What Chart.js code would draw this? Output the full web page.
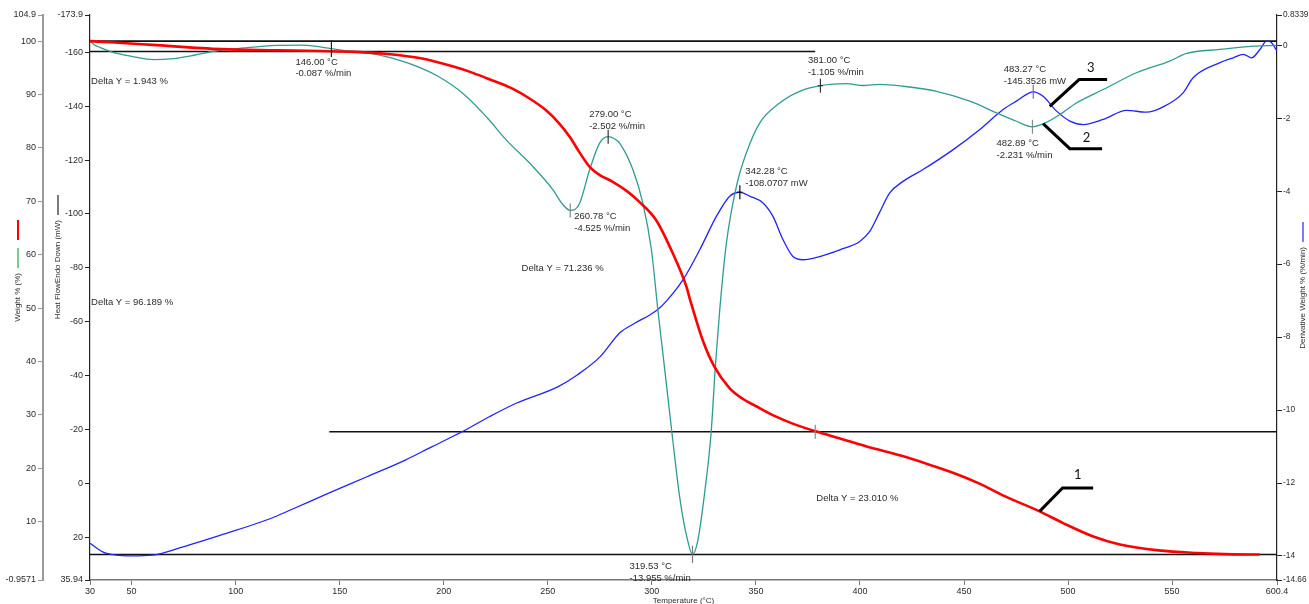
<!DOCTYPE html>
<html>
<head>
<meta charset="utf-8">
<title>TGA / DTG / DSC</title>
<script src="https://cdn.jsdelivr.net/npm/chart.js@4.4.1/dist/chart.umd.min.js"></script>
<style>
  html, body { margin: 0; padding: 0; background: #ffffff; overflow: hidden; }
  canvas { display: block; }
</style>
</head>
<body>
<canvas id="c" width="1309" height="604"></canvas>
<script>
// ---- Measured signals against temperature (°C) ----
const weightTemp = [30, 42, 60, 93, 120, 141, 157, 173, 189, 205, 213, 221, 233, 241, 249, 255, 260.5, 265, 270, 275, 281, 288, 294, 302, 310, 316.6, 318.4, 324.4, 329.9, 337.3, 344, 350.1, 359.4, 368, 378.7, 390, 405.4, 420, 433, 445, 456.9, 469.8, 486.3, 497.4, 512.1, 524.9, 543.4, 561.7, 575, 592];
const weightPct = [100, 99.75, 99.3, 98.5, 98.3, 98.15, 98.0, 97.6, 96.8, 95.2, 94.2, 93.0, 91.1, 89.3, 87.1, 84.8, 82.1, 79.3, 76.5, 74.9, 73.7, 71.9, 69.9, 66.5, 60.3, 54.0, 51.5, 44.0, 39.1, 35.0, 32.9, 31.6, 29.7, 28.3, 26.9, 25.6, 23.8, 22.3, 20.7, 19.1, 17.2, 14.7, 11.9, 9.75, 7.2, 5.7, 4.6, 4.1, 3.9, 3.81];

const derivTemp = [30, 32, 35, 41.6, 50, 60.8, 68.8, 80, 89.7, 105.7, 120, 131.3, 138, 145.7, 155.3, 168.2, 182.6, 197, 209.9, 221, 230, 242.8, 252.5, 257, 260.78, 263, 265.3, 270.1, 274.9, 279, 282, 284.5, 290.9, 295.7, 299.8, 302.9, 306, 310, 313.4, 316.5, 319.53, 322, 325.3, 328.5, 330.5, 332.6, 335.8, 340.6, 345.4, 351.8, 361.4, 371, 381, 393.5, 401.5, 409.5, 420.7, 436.8, 452.8, 465.6, 475.2, 482.89, 488, 496, 504, 516.9, 532.9, 548.9, 557, 573, 589, 600.2];
const derivRate = [0.12, 0.02, -0.06, -0.2, -0.3, -0.39, -0.37, -0.27, -0.16, -0.06, 0.0, 0.01, -0.02, -0.087, -0.16, -0.25, -0.48, -0.84, -1.35, -1.99, -2.59, -3.32, -3.96, -4.35, -4.525, -4.5, -4.33, -3.41, -2.68, -2.502, -2.56, -2.68, -3.41, -4.33, -5.61, -7.26, -8.8, -10.8, -12.4, -13.4, -13.955, -13.6, -12.3, -10.6, -8.8, -7.26, -5.43, -3.87, -2.95, -2.13, -1.58, -1.26, -1.105, -1.05, -1.1, -1.07, -1.12, -1.26, -1.53, -1.85, -2.08, -2.231, -2.15, -1.9, -1.58, -1.21, -0.75, -0.43, -0.22, -0.11, -0.02, 0.0];

const heatTemp = [30, 36.1, 42.5, 50, 60, 74.8, 93.2, 117.1, 126.3, 144.7, 163.1, 181.5, 194.4, 209, 221.9, 234.8, 255, 264.3, 275.3, 284.5, 292, 299.2, 303, 307.5, 315, 323, 331, 337.4, 342.28, 347, 353.4, 358.2, 363, 367.8, 372.6, 380.7, 390.3, 399.9, 404.7, 409.5, 414.3, 420.7, 430.3, 444.8, 457.6, 468.8, 475.2, 483.27, 488, 494.5, 500.9, 507.3, 516.9, 528.1, 537.7, 545.7, 555.3, 560.1, 573, 579.4, 584.2, 588.2, 592.2, 595.4, 597.8, 600.4];
const heatFlow = [22.3, 25.5, 26.7, 27.0, 26.7, 23.6, 19.2, 13.0, 9.95, 3.7, -2.4, -8.6, -13.6, -19.2, -24.7, -29.7, -35.9, -40.3, -47.1, -55.8, -59.5, -62.6, -64.6, -68.1, -75.6, -86.7, -99.1, -106.6, -108.0707, -106.6, -104.1, -99.1, -90.5, -84.2, -83.0, -84.2, -86.7, -89.8, -93.5, -100.7, -107.8, -112.1, -116.5, -123.9, -131.4, -138.8, -141.9, -145.3526, -143.7, -138.2, -134.5, -133.2, -135.1, -138.5, -137.8, -139.8, -145.0, -150.6, -156.2, -158.0, -159.3, -158.0, -161.1, -164.2, -163.6, -160.5];

// ---- Axis ticks ----
const tempTicks = [30, 50, 100, 150, 200, 250, 300, 350, 400, 450, 500, 550, 600.4];
const weightTicks = [-0.9571, 10, 20, 30, 40, 50, 60, 70, 80, 90, 100, 104.9];
const heatTicks = [-173.9, -160, -140, -120, -100, -80, -60, -40, -20, 0, 20, 35.94];
const derivTicks = [0.8339, 0, -2, -4, -6, -8, -10, -12, -14, -14.66];

// ---- Mass-loss step levels (weight %) and their temperature spans ----
const stepLevel = [100, 98.057, 26.821, 3.811];
const stepFrom = [30, 30, 145, 30];
const stepTo = [600.4, 378.5, 600.4, 600.4];
const stepText = ['Delta Y = 1.943 %', 'Delta Y = 96.189 %', 'Delta Y = 71.236 %', 'Delta Y = 23.010 %'];

// ---- Peak readouts ----
const derivPeakTemp = [146.00, 260.78, 279.00, 319.53, 381.00, 482.89];
const derivPeakRate = [-0.087, -4.525, -2.502, -13.955, -1.105, -2.231];
const heatPeakTemp = [342.28, 483.27];
const heatPeakFlow = [-108.0707, -145.3526];

const FONT = '"Liberation Sans", Arial, sans-serif';
const RED = '#ff0000';
const TEAL = '#2f9c93';
const BLUE = '#2222ff';
const INK = '#2b2b2b';

const pts = (xs, ys) => xs.map((x, i) => ({ x, y: ys[i] }));
const fmt = (v, d) => v.toFixed(d);

// label placement (pixel offsets from the marked point)
const derivLabelOffset = [[-36, 13.5], [4, 6], [-19, -22], [-63, 12], [-12.5, -25], [-36, 17]];
const heatLabelOffset = [[5.5, -20.5], [-29.5, -22.5]];
// step text anchors in (°C, weight %)
const stepTextAt = [[30.5, 92.4], [30.5, 51.0], [237.4, 57.5], [379, 14.3]];

// numbered call-outs: anchor on a curve, leader offsets in px
const callouts = [
  { label: '1', axis: 'w', x: 486.3, y: 11.9, path: [[0, 0], [23, -23.4], [53.6, -23.4]], text: [38.3, -37] },
  { label: '2', axis: 'd', x: 488, y: -2.145, path: [[0, 0], [26.7, 25], [59, 25]], text: [43.4, 14] },
  { label: '3', axis: 'hf', x: 491.2, y: -140.0, path: [[0, 0], [29.3, -26.7], [57.3, -26.7]], text: [41, -38.5] }
];

const stepDatasets = stepLevel.map((lvl, i) => ({
  label: 'step' + i,
  data: [{ x: stepFrom[i], y: lvl }, { x: stepTo[i], y: lvl }],
  yAxisID: 'w',
  borderColor: '#111111',
  borderWidth: 1.6,
  pointRadius: 0,
  order: 5
}));

const annotationPlugin = {
  id: 'thermalAnnotations',
  afterDatasetsDraw(chart) {
    const { ctx, scales } = chart;
    const X = scales.x;
    ctx.save();
    ctx.fillStyle = INK;
    ctx.textBaseline = 'middle';
    ctx.textAlign = 'left';
    ctx.font = '9.5px ' + FONT;

    // step differences
    stepText.forEach((t, i) => {
      const [tx, ty] = stepTextAt[i];
      ctx.fillText(t, X.getPixelForValue(tx), scales.w.getPixelForValue(ty));
    });

    // derivative peak readouts
    derivPeakTemp.forEach((t, i) => {
      const px = X.getPixelForValue(t) + derivLabelOffset[i][0];
      const py = scales.d.getPixelForValue(derivPeakRate[i]) + derivLabelOffset[i][1];
      ctx.fillText(fmt(t, 2) + ' °C', px, py);
      ctx.fillText(fmt(derivPeakRate[i], 3) + ' %/min', px, py + 11.6);
    });

    // heat-flow peak readouts
    heatPeakTemp.forEach((t, i) => {
      const px = X.getPixelForValue(t) + heatLabelOffset[i][0];
      const py = scales.hf.getPixelForValue(heatPeakFlow[i]) + heatLabelOffset[i][1];
      ctx.fillText(fmt(t, 2) + ' °C', px, py);
      ctx.fillText(fmt(heatPeakFlow[i], 4) + ' mW', px, py + 11.6);
    });

    // numbered call-outs
    ctx.strokeStyle = '#000000';
    ctx.lineWidth = 3;
    ctx.lineJoin = 'miter';
    ctx.font = '13px Lato, ' + FONT;
    ctx.textAlign = 'center';
    ctx.fillStyle = '#111111';
    callouts.forEach(c => {
      const ax = X.getPixelForValue(c.x);
      const ay = scales[c.axis].getPixelForValue(c.y);
      ctx.beginPath();
      c.path.forEach(([dx, dy], k) => {
        if (k === 0) ctx.moveTo(ax + dx, ay + dy); else ctx.lineTo(ax + dx, ay + dy);
      });
      ctx.stroke();
      ctx.fillText(c.label, ax + c.text[0], ay + c.text[1]);
    });
    ctx.restore();
  },
  afterDraw(chart) {
    const { ctx, scales } = chart;
    ctx.save();
    ctx.font = '8px ' + FONT;
    ctx.fillStyle = INK;
    ctx.textAlign = 'center';
    ctx.textBaseline = 'middle';

    // rotated axis title (text top at `top`) with its series swatches stacked above it
    const vTitle = (text, x, top, marks) => {
      const w = ctx.measureText(text).width;
      ctx.save();
      ctx.translate(x, top + w / 2);
      ctx.rotate(-Math.PI / 2);
      ctx.fillText(text, 0, 0);
      ctx.restore();
      let y = top - 5;
      marks.forEach(m => {
        ctx.strokeStyle = m.color;
        ctx.lineWidth = m.width;
        ctx.beginPath();
        ctx.moveTo(x, y);
        ctx.lineTo(x, y - 20);
        ctx.stroke();
        y -= 28;
      });
    };
    vTitle('Weight % (%)', scales.w.left + 18, 273, [{ color: '#22aa44', width: 1.2 }, { color: RED, width: 2 }]);
    vTitle('Heat FlowEndo Down (mW)', scales.hf.left + 15, 220, [{ color: '#222222', width: 1.2 }]);
    vTitle('Derivative Weight % (%/min)', scales.d.right - 6, 247, [{ color: BLUE, width: 1.2 }]);

    ctx.fillText('Temperature (°C)', (chart.chartArea.left + chart.chartArea.right) / 2, 601);
    ctx.restore();
  }
};

const tickFont = { family: FONT, size: 9 };
const fixTicks = list => scale => { scale.ticks = list.map(v => ({ value: v })); };

new Chart(document.getElementById('c'), {
  type: 'line',
  data: {
    datasets: [
      {
        label: 'Weight',
        data: pts(weightTemp, weightPct),
        yAxisID: 'w',
        borderColor: RED,
        borderWidth: 2.6,
        pointRadius: 0,
        cubicInterpolationMode: 'monotone',
        order: 2
      },
      {
        label: 'Derivative Weight',
        data: pts(derivTemp, derivRate),
        yAxisID: 'd',
        borderColor: TEAL,
        borderWidth: 1.3,
        pointRadius: 0,
        cubicInterpolationMode: 'monotone',
        order: 3
      },
      {
        label: 'Heat Flow',
        data: pts(heatTemp, heatFlow),
        yAxisID: 'hf',
        borderColor: BLUE,
        borderWidth: 1.3,
        pointRadius: 0,
        cubicInterpolationMode: 'monotone',
        order: 4
      },
      ...stepDatasets,
      {
        label: 'deriv peaks',
        data: pts(derivPeakTemp, derivPeakRate),
        yAxisID: 'd',
        showLine: false,
        pointStyle: 'line',
        rotation: 90,
        pointRadius: [8.5, 7, 7, 8.5, 7, 7],
        pointBorderColor: ['#222', '#888', '#333', '#777', '#333', '#888'],
        pointBorderWidth: 1.2,
        order: 0
      },
      {
        label: 'heat peaks',
        data: pts(heatPeakTemp, heatPeakFlow),
        yAxisID: 'hf',
        showLine: false,
        pointStyle: 'line',
        rotation: 90,
        pointRadius: [7, 7],
        pointBorderColor: ['#111', '#777'],
        pointBorderWidth: 1.2,
        order: 0
      },
      {
        label: 'heat peak cross',
        data: [{ x: heatPeakTemp[0], y: heatPeakFlow[0] }],
        yAxisID: 'hf',
        showLine: false,
        pointStyle: 'line',
        rotation: 0,
        pointRadius: 2.5,
        pointBorderColor: '#111',
        pointBorderWidth: 1.2,
        order: 0
      },
      {
        label: 'deriv peak cross',
        data: [{ x: derivPeakTemp[4], y: derivPeakRate[4] }],
        yAxisID: 'd',
        showLine: false,
        pointStyle: 'line',
        rotation: 0,
        pointRadius: 2.5,
        pointBorderColor: '#333',
        pointBorderWidth: 1.2,
        order: 0
      },
      {
        label: 'step mark',
        data: [{ x: 378.5, y: stepLevel[2] }],
        yAxisID: 'w',
        showLine: false,
        pointStyle: 'line',
        rotation: 90,
        pointRadius: 7,
        pointBorderColor: '#888',
        pointBorderWidth: 1.2,
        order: 0
      }
    ]
  },
  options: {
    responsive: false,
    devicePixelRatio: 1,
    animation: false,
    events: [],
    layout: { padding: { top: 15, left: 0, right: 0, bottom: 0 } },
    plugins: { legend: { display: false }, tooltip: { enabled: false } },
    scales: {
      x: {
        type: 'linear',
        position: 'bottom',
        min: 30,
        max: 600.4,
        afterBuildTicks: fixTicks(tempTicks),
        afterFit: s => { s.height = 24; },
        grid: { drawOnChartArea: false, drawTicks: true, tickLength: 5, color: '#777' },
        border: { display: true, color: '#777', width: 1.5 },
        ticks: { font: tickFont, color: INK, padding: 1, maxRotation: 0, autoSkip: false, callback: v => String(v) }
      },
      w: {
        type: 'linear',
        position: 'left',
        weight: 2,
        min: -0.9571,
        max: 104.9,
        afterBuildTicks: fixTicks(weightTicks),
        afterFit: s => { s.width = 43; },
        grid: { drawOnChartArea: false, drawTicks: true, tickLength: 5, color: '#999' },
        border: { display: true, color: '#9a9a9a', width: 2 },
        ticks: { font: tickFont, color: INK, padding: 2, autoSkip: false, callback: v => String(v) }
      },
      hf: {
        type: 'linear',
        position: 'left',
        weight: 1,
        reverse: true,
        min: -173.9,
        max: 35.94,
        afterBuildTicks: fixTicks(heatTicks),
        afterFit: s => { s.width = 47; },
        grid: { drawOnChartArea: false, drawTicks: true, tickLength: 5, color: '#222' },
        border: { display: true, color: '#222', width: 1.2 },
        ticks: { font: tickFont, color: INK, padding: 2, autoSkip: false, callback: v => String(v) }
      },
      d: {
        type: 'linear',
        position: 'right',
        min: -14.66,
        max: 0.8339,
        afterBuildTicks: fixTicks(derivTicks),
        afterFit: s => { s.width = 32; },
        grid: { drawOnChartArea: false, drawTicks: true, tickLength: 5, color: '#222' },
        border: { display: true, color: '#222', width: 1.2 },
        ticks: { font: { family: FONT, size: 8.3 }, color: INK, padding: 1, autoSkip: false, callback: v => String(v) }
      }
    }
  },
  plugins: [annotationPlugin]
});
</script>
</body>
</html>
